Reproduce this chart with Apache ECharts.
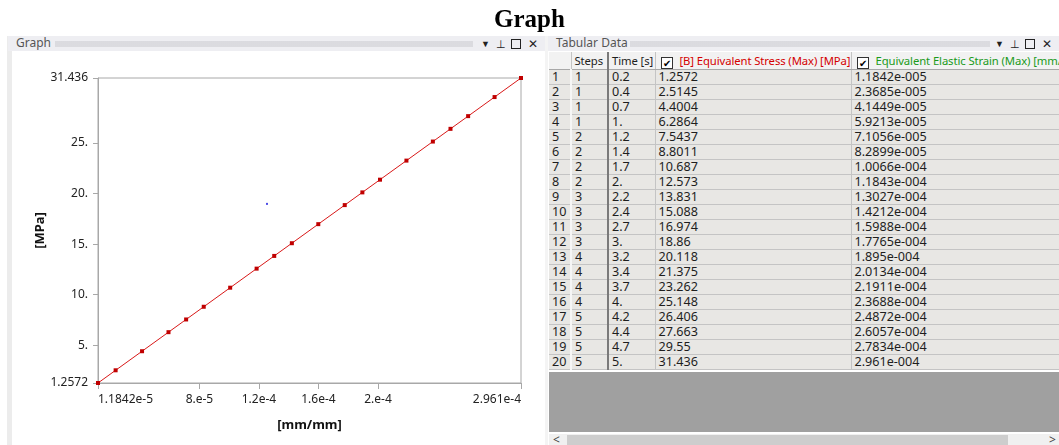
<!DOCTYPE html>
<html>
<head>
<meta charset="utf-8">
<script src="https://cdn.jsdelivr.net/npm/echarts@6/dist/echarts.min.js"></script>
<style>
  html, body { margin: 0; padding: 0; width: 1059px; height: 445px; overflow: hidden; background: #fff;
    font-family: "Noto Sans", "Open Sans", sans-serif; }
  #chart { position: absolute; left: 0; top: 0; width: 1059px; height: 445px; z-index: 3; pointer-events: none; }
  .strip { position: absolute; background: #ececec; }
  .head { position: absolute; top: 36px; height: 15px; background: #eeeef2; color: #555;
    font-size: 12px; line-height: 15px; overflow: hidden; white-space: nowrap; }
  .head .ttl { position: absolute; left: 8px; top: -1px; }
  .head .dots { position: absolute; top: 5px; height: 6px;
    background-image: radial-gradient(circle, #bcbcc0 0.55px, transparent 0.8px); background-size: 2px 2px; }
  .icon { position: absolute; top: 0; height: 15px; color: #222; font-size: 11px; line-height: 15px; }
  .box { position: absolute; top: 3px; width: 8px; height: 8px; border: 1px solid #222; }
  #table { position: absolute; left: 549px; top: 52px; width: 510px; height: 320px; overflow: hidden; }
  table { border-collapse: collapse; table-layout: fixed; font-size: 12.6px; color: #1e1e1e; }
  td, th { padding: 0 0 0 3px; white-space: nowrap; overflow: hidden; text-align: left; font-weight: normal; }
  th { height: 17px; background: #f2f2f2; border-right: 1px solid #c4c4c4; border-bottom: 1px solid #a8a8a8;
    line-height: 17px; font-size: 11.3px; letter-spacing: -0.1px; }
  td { height: 14px; line-height: 14px; background: #e8e7e4; border-bottom: 1px solid #c4c4c4; border-right: 1px solid #c4c4c4; }
  td.n { border-right: 2px solid #f6f6f6; }
  td.s, th.s { border-right: 2px solid #7a7a7a; }
  .chk { display: inline-block; width: 10px; height: 10px; border: 1px solid #333; background: #fff;
    font-size: 10px; line-height: 10px; text-align: center; vertical-align: -2px; margin: 0 7px 0 2px; color: #000; letter-spacing: 0; }
  #gray { position: absolute; left: 549px; top: 372px; width: 510px; height: 60px; background: #a0a0a0; }
  #scroll { position: absolute; left: 549px; top: 434px; width: 510px; height: 11px; background: #f0f0f0; }
  #thumb { position: absolute; left: 18px; top: 1px; width: 441px; height: 11px; background: #cdcdcd; }
  .arr { position: absolute; top: -3px; font-size: 12px; color: #444; }
</style>
</head>
<body>

<!-- Graph panel frame -->
<div class="strip" style="left:7px;top:36px;width:5px;height:409px;"></div>
<div class="head" style="left:8px;width:537px;">
  <span class="ttl">Graph</span>
  <div class="dots" style="left:47px;width:418px;"></div>
  <span class="icon" style="left:473px;font-size:9px;">&#9660;</span>
  <span class="icon" style="left:488px;">&#x22A5;</span>
  <div class="box" style="left:503px;"></div>
  <span class="icon" style="left:520px;font-size:12px;">&#x2715;</span>
</div>
<div class="strip" style="left:545px;top:36px;width:3px;height:409px;background:#f4f4f4;"></div>

<!-- Tabular Data panel frame -->
<div class="head" style="left:548px;width:511px;">
  <span class="ttl">Tabular Data</span>
  <div class="dots" style="left:82px;width:360px;"></div>
  <span class="icon" style="left:447px;font-size:9px;">&#9660;</span>
  <span class="icon" style="left:462px;">&#x22A5;</span>
  <div class="box" style="left:477px;"></div>
  <span class="icon" style="left:494px;font-size:12px;">&#x2715;</span>
</div>
<div id="table"></div>
<div id="gray"></div>
<div id="scroll"><span class="arr" style="left:4px;">&lt;</span><div id="thumb"></div><span class="arr" style="left:500px;">&gt;</span></div>

<div id="chart"></div>

<script>
// Results per substep
const steps = [1, 1, 1, 1, 2, 2, 2, 2, 3, 3, 3, 3, 4, 4, 4, 4, 5, 5, 5, 5];
const times = ["0.2", "0.4", "0.7", "1.", "1.2", "1.4", "1.7", "2.", "2.2", "2.4",
               "2.7", "3.", "3.2", "3.4", "3.7", "4.", "4.2", "4.4", "4.7", "5."];
const stress = ["1.2572", "2.5145", "4.4004", "6.2864", "7.5437", "8.8011", "10.687", "12.573", "13.831", "15.088",
                "16.974", "18.86", "20.118", "21.375", "23.262", "25.148", "26.406", "27.663", "29.55", "31.436"];
const strain = ["1.1842e-005", "2.3685e-005", "4.1449e-005", "5.9213e-005", "7.1056e-005", "8.2899e-005",
                "1.0066e-004", "1.1843e-004", "1.3027e-004", "1.4212e-004", "1.5988e-004", "1.7765e-004",
                "1.895e-004", "2.0134e-004", "2.1911e-004", "2.3688e-004", "2.4872e-004", "2.6057e-004",
                "2.7834e-004", "2.961e-004"];

// Column headings
const headers = ["", "Steps", "Time [s]", "[B] Equivalent Stress (Max) [MPa]", "Equivalent Elastic Strain (Max) [mm/mm]"];

// Axis ticks
const xTickValues = [1.1842e-5, 8e-5, 1.2e-4, 1.6e-4, 2e-4, 2.961e-4];
const xTickLabels = ["1.1842e-5", "8.e-5", "1.2e-4", "1.6e-4", "2.e-4", "2.961e-4"];
const yTickValues = [1.2572, 5, 10, 15, 20, 25, 31.436];
const yTickLabels = ["1.2572", "5.", "10.", "15.", "20.", "25.", "31.436"];

// Probe marker left on the plot
const probe = [[1.254e-4, 18.98]];

// ---- table ----
(function buildTable() {
  const widths = [22, 37, 47, 196, 300];
  const total = widths.reduce((a, b) => a + b, 0);
  let html = '<table style="width:' + total + 'px"><colgroup>' +
    widths.map(w => '<col style="width:' + w + 'px">').join('') + '</colgroup>';
  html += '<tr>' +
    '<th>' + headers[0] + '</th>' +
    '<th class="s">' + headers[1] + '</th>' +
    '<th>' + headers[2] + '</th>' +
    '<th style="color:#d40000"><span class="chk">&#10004;</span>' + headers[3] + '</th>' +
    '<th style="color:#1a9a1a"><span class="chk">&#10004;</span>' + headers[4] + '</th></tr>';
  for (let i = 0; i < steps.length; i++) {
    html += '<tr><td class="n">' + (i + 1) + '</td><td class="s">' + steps[i] + '</td><td>' + times[i] +
      '</td><td>' + stress[i] + '</td><td>' + strain[i] + '</td></tr>';
  }
  html += '</table>';
  document.getElementById('table').innerHTML = html;
})();

// ---- graph ----
const points = strain.map((s, i) => [Number(s), Number(stress[i])]);

function tickText(values, labels) {
  return function (v) {
    for (let i = 0; i < values.length; i++) {
      if (Math.abs(v - values[i]) <= Math.abs(values[i]) * 1e-6) return labels[i];
    }
    return '';
  };
}

const axisGrey = '#a8a8a8';
const chart = echarts.init(document.getElementById('chart'), null, { renderer: 'canvas' });
chart.setOption({
  animation: false,
  backgroundColor: 'transparent',
  title: {
    text: 'Graph', left: 'center', top: 3,
    textStyle: { fontFamily: '"Liberation Serif", serif', fontWeight: 'bold', fontSize: 25, color: '#000' }
  },
  grid: {
    left: 98, top: 78, width: 423, height: 305,
    show: true, borderColor: axisGrey, borderWidth: 1, backgroundColor: 'transparent'
  },
  xAxis: {
    type: 'value',
    min: xTickValues[0], max: xTickValues[xTickValues.length - 1],
    name: '[mm/mm]', nameLocation: 'middle', nameGap: 36,
    nameTextStyle: { fontFamily: 'Noto Sans', fontWeight: 'bold', fontSize: 13, color: '#111' },
    axisLine: { lineStyle: { color: axisGrey } },
    axisTick: { customValues: xTickValues, length: 6, lineStyle: { color: axisGrey } },
    axisLabel: { customValues: xTickValues, formatter: tickText(xTickValues, xTickLabels),
      alignMinLabel: 'left', alignMaxLabel: 'right',
      margin: 11, fontFamily: 'Noto Sans', fontSize: 12, color: '#222' },
    splitLine: { show: false }
  },
  yAxis: {
    type: 'value',
    min: yTickValues[0], max: yTickValues[yTickValues.length - 1],
    name: '[MPa]', nameLocation: 'middle', nameGap: 42, nameRotate: 90,
    nameTextStyle: { fontFamily: 'Noto Sans', fontWeight: 'bold', fontSize: 13, color: '#111' },
    axisLine: { show: true, lineStyle: { color: axisGrey } },
    axisTick: { show: true, customValues: yTickValues, length: 5, lineStyle: { color: axisGrey } },
    axisLabel: { customValues: yTickValues, formatter: tickText(yTickValues, yTickLabels),
      margin: 10, fontFamily: 'Noto Sans', fontSize: 12, color: '#222' },
    splitLine: { show: false }
  },
  series: [
    {
      name: 'Equivalent Stress', type: 'line', data: points,
      symbol: 'rect', symbolSize: 4, showSymbol: true,
      itemStyle: { color: '#c00000' },
      lineStyle: { color: '#d81818', width: 1 }
    },
    {
      name: 'probe', type: 'scatter', data: probe,
      symbol: 'rect', symbolSize: 2, itemStyle: { color: '#2020e0' }
    }
  ]
});
</script>
</body>
</html>
